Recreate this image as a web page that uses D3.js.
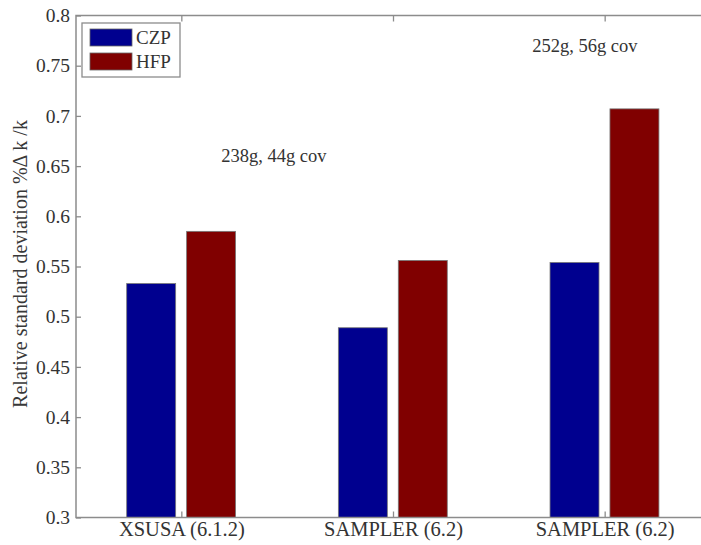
<!DOCTYPE html>
<html>
<head>
<meta charset="utf-8">
<script src="https://cdn.jsdelivr.net/npm/d3@7"></script>
<style>
  body { margin: 0; background: #fff; }
  text { font-family: "Liberation Serif", "Times New Roman", serif; fill: #333; }
</style>
</head>
<body>
<script>
// chart data
var categories = ["XSUSA (6.1.2)", "SAMPLER (6.2)", "SAMPLER (6.2)"];
var seriesNames = ["CZP", "HFP"];
var czpValues = [0.533, 0.489, 0.554];
var hfpValues = [0.585, 0.556, 0.707];
var seriesColors = ["#00008f", "#800000"];
var yTicks = [0.3, 0.35, 0.4, 0.45, 0.5, 0.55, 0.6, 0.65, 0.7, 0.75, 0.8];
// annotations in axis units (x in category units, 1 = first group)
var noteText = ["238g, 44g cov", "252g, 56g cov"];
var noteX = [1.435, 2.904];
var noteY = [0.654, 0.764];

var W = 701, H = 545;
// plot box edges (right edge lies past the window, as in the reference)
var pLeft = 76, pRight = 711, pTop = 15.5, pBottom = 517.5;

var svg = d3.select("body").append("svg")
    .attr("width", W)
    .attr("height", H);

// x positions by category index (labels repeat, so index is the key)
var x0 = d3.scaleBand()
    .domain(d3.range(categories.length))
    .range([pLeft, pRight])
    .paddingInner(0).paddingOuter(0);

// same axis as a continuous scale, for the text annotations
var xc = d3.scaleLinear().domain([0.5, categories.length + 0.5]).range([pLeft, pRight]);

var step = x0.step();
var x1 = d3.scaleBand()
    .domain(seriesNames)
    .range([step * 0.2395, step * 0.754])
    .paddingInner(0.183).paddingOuter(0);

var y = d3.scaleLinear().domain([0.3, 0.8]).range([pBottom, pTop]);

var rows = categories.map(function(c, i) {
  return {i: i, values: [czpValues[i], hfpValues[i]]};
});

// bars
var groups = svg.selectAll("g.grp")
    .data(rows)
  .enter().append("g")
    .attr("class", "grp")
    .attr("transform", function(d) { return "translate(" + x0(d.i) + ",0)"; });

groups.selectAll("rect")
    .data(function(d) { return d.values.map(function(v, k) { return {name: seriesNames[k], v: v, k: k}; }); })
  .enter().append("rect")
    .attr("x", function(d) { return x1(d.name); })
    .attr("width", x1.bandwidth())
    .attr("y", function(d) { return y(d.v); })
    .attr("height", function(d) { return y(0.3) - y(d.v); })
    .attr("fill", function(d) { return seriesColors[d.k]; })
    .attr("stroke", "#777")
    .attr("stroke-width", 0.8);

// frame (box on)
svg.append("rect")
    .attr("x", pLeft).attr("y", pTop)
    .attr("width", pRight - pLeft).attr("height", pBottom - pTop)
    .attr("fill", "none")
    .attr("stroke", "#8c8c8c")
    .attr("stroke-width", 1.5);

// y axis, ticks pointing inward
var yAxis = svg.append("g")
    .attr("transform", "translate(" + pLeft + ",0)")
    .call(d3.axisLeft(y).tickValues(yTicks).tickSizeInner(-5).tickSizeOuter(0).tickPadding(6)
      .tickFormat(function(d) { return +d.toFixed(2); }));
yAxis.select(".domain").remove();
yAxis.selectAll(".tick line").attr("stroke", "#8c8c8c").attr("stroke-width", 1.3);
yAxis.selectAll(".tick text").style("font-size", "19.5px").attr("fill", "#383838");

// x axis bottom, ticks pointing up
var xAxis = svg.append("g")
    .attr("transform", "translate(0," + pBottom + ")")
    .call(d3.axisBottom(x0).tickSizeInner(-6).tickSizeOuter(0).tickPadding(4)
      .tickFormat(function(i) { return categories[i]; }));
xAxis.select(".domain").remove();
xAxis.selectAll(".tick line").attr("stroke", "#8c8c8c").attr("stroke-width", 1.3);
xAxis.selectAll(".tick text").style("font-size", "20.5px").attr("fill", "#383838");

// top ticks pointing down
var xTop = svg.append("g")
    .attr("transform", "translate(0," + pTop + ")")
    .call(d3.axisTop(x0).tickSizeInner(-6).tickSizeOuter(0).tickFormat(""));
xTop.select(".domain").remove();
xTop.selectAll(".tick line").attr("stroke", "#8c8c8c").attr("stroke-width", 1.3);

// y axis title
svg.append("text")
    .attr("transform", "translate(27,264)rotate(-90)")
    .attr("text-anchor", "middle")
    .style("font-size", "20px")
    .style("fill", "#383838")
    .text("Relative standard deviation %\u0394 k /k");

// annotations
svg.selectAll("text.note")
    .data(noteText)
  .enter().append("text")
    .attr("class", "note")
    .attr("x", function(d, i) { return xc(noteX[i]); })
    .attr("y", function(d, i) { return y(noteY[i]); })
    .attr("text-anchor", "middle")
    .style("font-size", "18.5px")
    .text(function(d) { return d; });

// legend
var legend = svg.append("g").attr("transform", "translate(82,23)");
legend.append("rect")
    .attr("width", 98).attr("height", 54)
    .attr("fill", "#fff")
    .attr("stroke", "#8c8c8c")
    .attr("stroke-width", 1.3);
seriesNames.forEach(function(name, k) {
  legend.append("rect")
      .attr("x", 8).attr("y", 6 + k * 24)
      .attr("width", 42).attr("height", 17)
      .attr("fill", seriesColors[k])
      .attr("stroke", "#666")
      .attr("stroke-width", 0.8);
  legend.append("text")
      .attr("x", 54).attr("y", 21 + k * 24)
      .style("font-size", "19px")
      .text(name);
});
</script>
</body>
</html>
